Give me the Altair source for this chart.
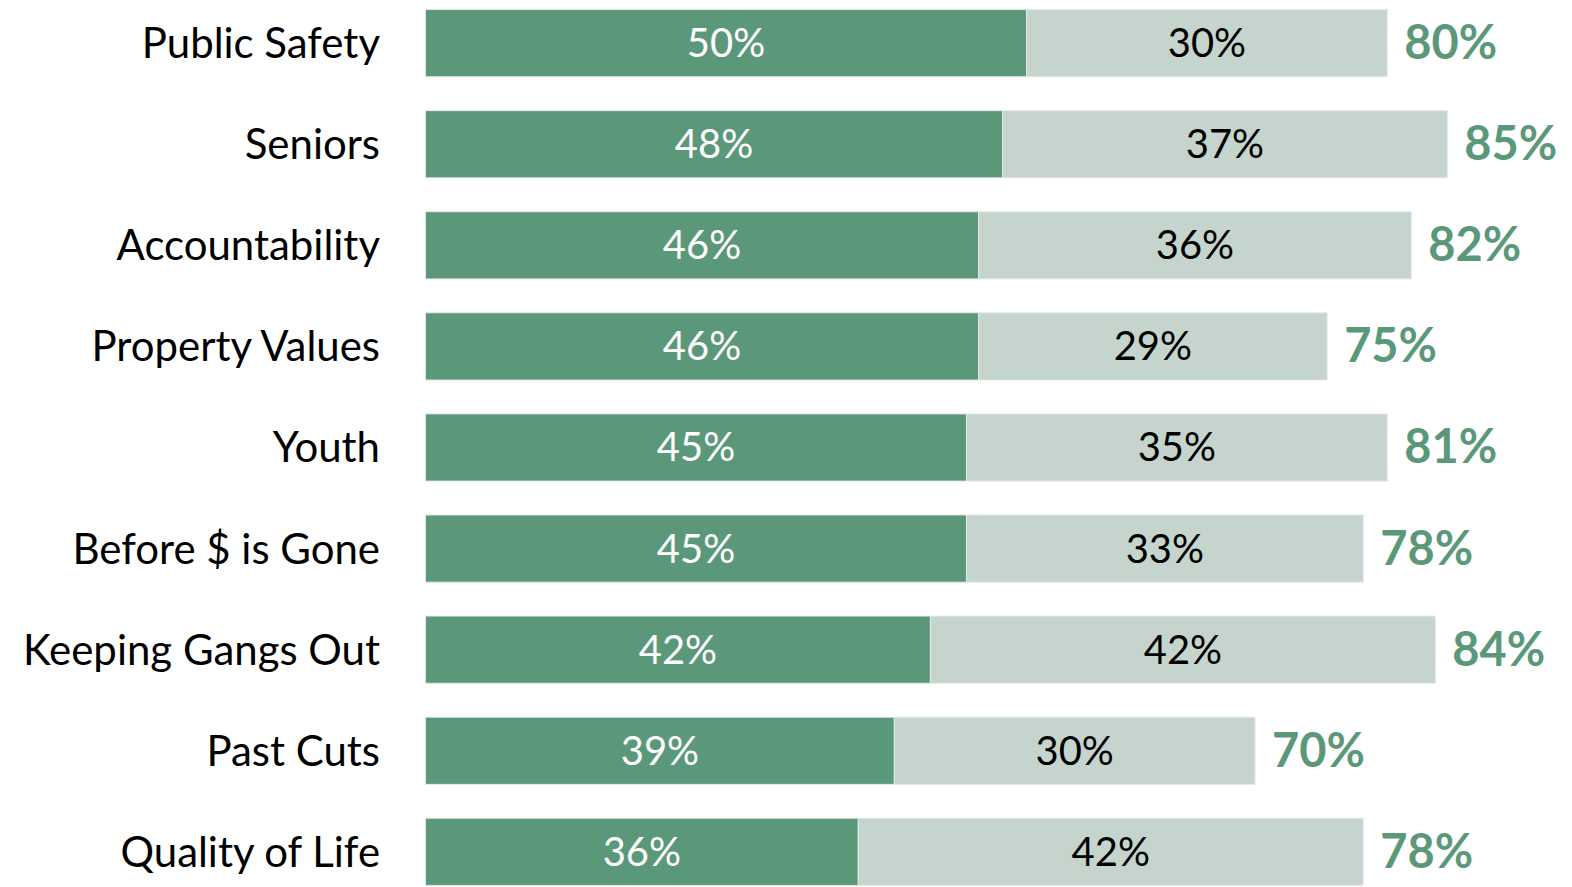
import altair as alt
import pandas as pd

categories = ["Public Safety", "Seniors", "Accountability", "Property Values", "Youth",
              "Before $ is Gone", "Keeping Gangs Out", "Past Cuts", "Quality of Life"]
strong = [50, 48, 46, 46, 45, 45, 42, 39, 36]
somewhat = [30, 37, 36, 29, 35, 33, 42, 30, 42]
totals = [80, 85, 82, 75, 81, 78, 84, 70, 78]

DARK = "#5B9879"
LIGHT = "#C5D5CD"
FONT = "Lato"

rows = []
for c, s, w, t in zip(categories, strong, somewhat, totals):
    rows.append({"cat": c, "seg": "strong", "start": 0, "end": s, "mid": s / 2,
                 "label": f"{s}%"})
    rows.append({"cat": c, "seg": "somewhat", "start": s, "end": s + w, "mid": s + w / 2,
                 "label": f"{w}%"})
df = pd.DataFrame(rows)
tot_df = pd.DataFrame({"cat": categories, "total": [f"{t}%" for t in totals],
                       "barend": [s + w for s, w in zip(strong, somewhat)]})

y = alt.Y("cat:N", sort=categories,
          scale=alt.Scale(paddingInner=0.335, paddingOuter=0),
          axis=alt.Axis(title=None, domain=False, ticks=False, labelFontSize=42,
                        labelFont=FONT, labelColor="#000000", labelPadding=46,
                        labelLimit=500, labelBaseline="middle", labelOffset=2))
xscale = alt.Scale(domain=[0, 94.7], nice=False, zero=True)

bars = alt.Chart(df).mark_bar(stroke="#E2EAE6", strokeWidth=1).encode(
    y=y,
    x=alt.X("start:Q", scale=xscale, axis=None),
    x2="end:Q",
    color=alt.Color("seg:N", scale=alt.Scale(domain=["strong", "somewhat"], range=[DARK, LIGHT]),
                    legend=None),
)

labels = alt.Chart(df).mark_text(font=FONT, fontSize=40, baseline="middle", align="center",
                                 dy=2).encode(
    y=alt.Y("cat:N", sort=categories),
    x=alt.X("mid:Q", scale=xscale),
    text="label:N",
    color=alt.Color("seg:N", scale=alt.Scale(domain=["strong", "somewhat"], range=["#FFFFFF", "#000000"]),
                    legend=None),
)

tot = alt.Chart(tot_df).mark_text(font=FONT, fontSize=47, fontWeight="bold", baseline="middle",
                                  align="left", dx=17, dy=2, color=DARK).encode(
    y=alt.Y("cat:N", sort=categories),
    x=alt.X("barend:Q", scale=xscale),
    text="total:N",
)

chart = alt.layer(bars, labels, tot).resolve_scale(color="independent").properties(
    width=1140, height=877,
    autosize=alt.AutoSizeParams(type="none"),
    padding={"left": 418, "top": 1, "right": 0, "bottom": 0},
).configure_view(stroke=None)

chart.save("out.html", embed_options={"renderer": "svg", "actions": False})
